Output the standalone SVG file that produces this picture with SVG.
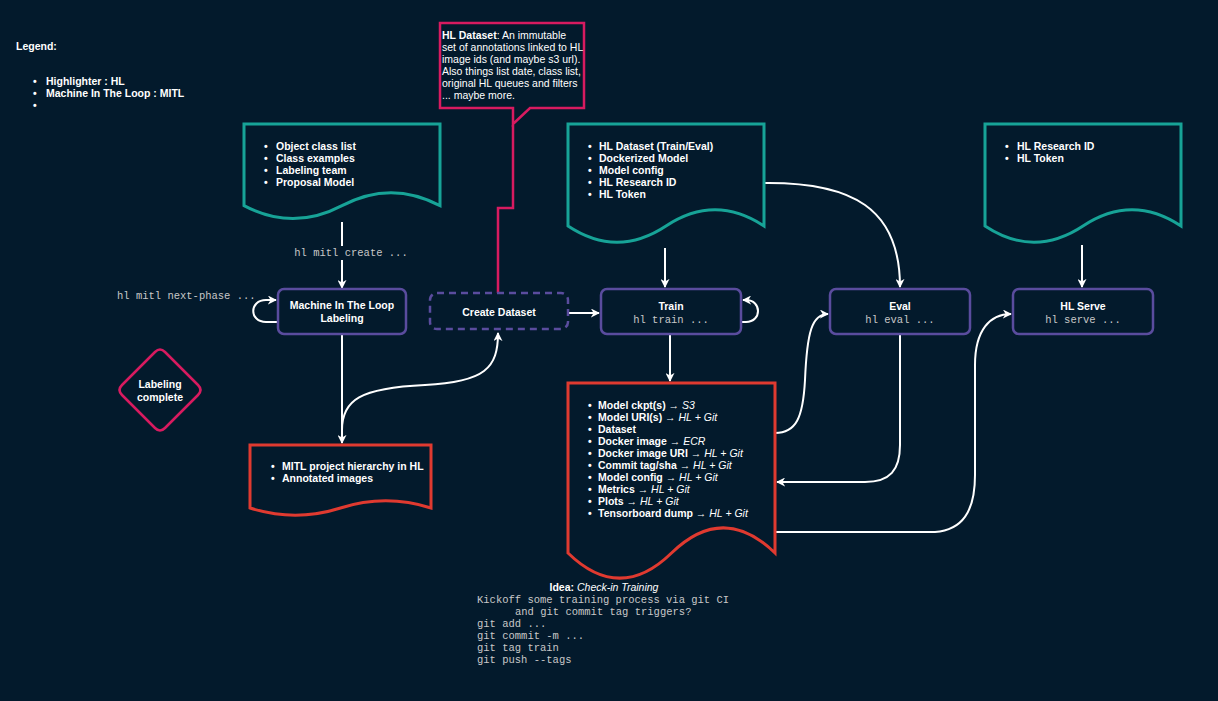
<svg xmlns="http://www.w3.org/2000/svg" width="1218" height="701" viewBox="0 0 1218 701">
<defs>
<style>
.t{font-family:"Liberation Sans",Arial,sans-serif;font-size:10.5px;fill:#ffffff}
.b{font-weight:bold}
.i{font-style:italic;font-weight:normal}
.n{font-weight:normal}
.m{font-family:"Liberation Mono","Courier New",monospace;font-size:10.5px;fill:#c8c8c8}
.doc-g{fill:#031a2c;stroke:#17a397;stroke-width:3}
.doc-r{fill:#031a2c;stroke:#e03a30;stroke-width:3}
.node{fill:#031a2c;stroke:#5a4c9e;stroke-width:2.5}
.pink{fill:#031a2c;stroke:#d81b60;stroke-width:2.5}
.c{fill:none;stroke:#ffffff;stroke-width:2}
</style>
<marker id="arr" viewBox="0 0 10 10" refX="9" refY="5" markerWidth="9" markerHeight="9" markerUnits="userSpaceOnUse" orient="auto"><path d="M0,0 L10,5 L0,10 L3,5 Z" fill="#ffffff"/></marker>
</defs>
<rect x="0" y="0" width="1218" height="701" fill="#031a2c"/>

<g id="legend" class="t b">
<text x="16" y="50">Legend:</text>
<text x="33" y="85">•</text><text x="46" y="85">Highlighter : HL</text>
<text x="33" y="97">•</text><text x="46" y="97">Machine In The Loop : MITL</text>
<text x="33" y="109">•</text>
</g>

<g id="connectors">
<path class="c" d="M342,222 V246"/>
<path class="c" d="M342,260 V288" marker-end="url(#arr)"/>
<text class="m" x="351" y="256" text-anchor="middle">hl mitl create ...</text>
<path class="c" d="M278,322 H266 C249,322 249,300 266,300 H276" marker-end="url(#arr)"/>
<text class="m" x="117" y="299">hl mitl next-phase ...</text>
<path class="c" d="M568,313 H599" marker-end="url(#arr)"/>
<path class="c" d="M741,322 H746 C762,322 762,300 746,300 H743" marker-end="url(#arr)"/>
<path class="c" d="M665,248 V287" marker-end="url(#arr)"/>
<path class="c" d="M764,183 C852,182 900,208 900,287" marker-end="url(#arr)"/>
<path class="c" d="M1082,245 V287" marker-end="url(#arr)"/>
<path class="c" d="M670,334 V381" marker-end="url(#arr)"/>
<path class="c" d="M775,433 C796,433 803,418 805,380 C807,332 812,314 828,314" marker-end="url(#arr)"/>
<path class="c" d="M900,334 V445 C900,470 890,482 865,482 H777" marker-end="url(#arr)"/>
<path class="c" d="M775,532 H935 C962,530 975,512 975,475 V365 C975,330 990,314 1011,314" marker-end="url(#arr)"/>
<path class="c" d="M342,334 V443" marker-end="url(#arr)"/>
<path class="c" d="M342,430 C342,400 360,388 425,385 C485,382 498,368 498,333" marker-end="url(#arr)"/>
<path d="M513,125 V208 H498 V293" fill="none" stroke="#d81b60" stroke-width="2.5"/>
</g>

<g id="callout">
<path class="pink" d="M440,23 H584 V108 H530 L513,124 V108 H440 Z"/>
<text class="t" x="442" y="39"><tspan class="b">HL Dataset</tspan>: An immutable</text>
<text class="t" x="442" y="51">set of annotations linked to HL</text>
<text class="t" x="442" y="63">image ids (and maybe s3 url).</text>
<text class="t" x="442" y="75">Also things list date, class list,</text>
<text class="t" x="442" y="87">original HL queues and filters</text>
<text class="t" x="442" y="99">... maybe more.</text>
</g>

<g id="doc-inputs-mitl">
<path class="doc-g" d="M244,124 H440 V205.6 Q391,179.7 342,205.6 Q293,231.5 244,205.6 Z"/>
<g class="t b">
<text x="264" y="150">•</text><text x="276" y="150">Object class list</text>
<text x="264" y="162">•</text><text x="276" y="162">Class examples</text>
<text x="264" y="174">•</text><text x="276" y="174">Labeling team</text>
<text x="264" y="186">•</text><text x="276" y="186">Proposal Model</text>
</g>
</g>

<g id="doc-inputs-train">
<path class="doc-g" d="M568,124 H764 V226 Q715,193.6 666,226 Q617,258.4 568,226 Z"/>
<g class="t b">
<text x="588" y="150">•</text><text x="599" y="150">HL Dataset (Train/Eval)</text>
<text x="588" y="162">•</text><text x="599" y="162">Dockerized Model</text>
<text x="588" y="174">•</text><text x="599" y="174">Model config</text>
<text x="588" y="186">•</text><text x="599" y="186">HL Research ID</text>
<text x="588" y="198">•</text><text x="599" y="198">HL Token</text>
</g>
</g>

<g id="doc-inputs-serve">
<path class="doc-g" d="M985,124 H1181 V226 Q1132,193.6 1083,226 Q1034,258.4 985,226 Z"/>
<g class="t b">
<text x="1005" y="150">•</text><text x="1017" y="150">HL Research ID</text>
<text x="1005" y="162">•</text><text x="1017" y="162">HL Token</text>
</g>
</g>

<g id="node-mitl">
<rect class="node" x="278" y="289" width="128" height="45" rx="6"/>
<text class="t b" x="342" y="309" text-anchor="middle">Machine In The Loop</text>
<text class="t b" x="342" y="322" text-anchor="middle">Labeling</text>
</g>

<g id="node-create-dataset">
<rect class="node" x="430" y="293" width="138" height="36" rx="7" stroke-dasharray="7,5"/>
<text class="t b" x="499" y="316" text-anchor="middle">Create Dataset</text>
</g>

<g id="node-train">
<rect class="node" x="601" y="289" width="140" height="45" rx="6"/>
<text class="t b" x="671" y="310" text-anchor="middle">Train</text>
<text class="m" x="671" y="323" text-anchor="middle">hl train ...</text>
</g>

<g id="node-eval">
<rect class="node" x="830" y="289" width="140" height="45" rx="6"/>
<text class="t b" x="900" y="310" text-anchor="middle">Eval</text>
<text class="m" x="900" y="323" text-anchor="middle">hl eval ...</text>
</g>

<g id="node-serve">
<rect class="node" x="1013" y="289" width="140" height="45" rx="6"/>
<text class="t b" x="1083" y="310" text-anchor="middle">HL Serve</text>
<text class="m" x="1083" y="323" text-anchor="middle">hl serve ...</text>
</g>

<g id="node-labeling-complete">
<path class="pink" d="M155,352 Q160,347 165,352 L198,385 Q203,390 198,395 L165,428 Q160,433 155,428 L122,395 Q117,390 122,385 Z"/>
<text class="t b" x="160" y="388" text-anchor="middle">Labeling</text>
<text class="t b" x="160" y="401" text-anchor="middle">complete</text>
</g>

<g id="doc-mitl-outputs">
<path class="doc-r" d="M250,445 H431 V508 Q385.75,493.6 340.5,508 Q295.25,522.4 250,508 Z"/>
<g class="t b">
<text x="271" y="470">•</text><text x="282" y="470">MITL project hierarchy in HL</text>
<text x="271" y="482">•</text><text x="282" y="482">Annotated images</text>
</g>
</g>

<g id="doc-train-outputs">
<path class="doc-r" d="M568,383 H775 V553 Q723.25,502.6 671.5,553 Q619.75,603.4 568,553 Z"/>
<g class="t b">
<text x="588" y="409">•</text><text x="598" y="409">Model ckpt(s) <tspan class="n">→</tspan> <tspan class="i">S3</tspan></text>
<text x="588" y="421">•</text><text x="598" y="421">Model URI(s) <tspan class="n">→</tspan> <tspan class="i">HL + Git</tspan></text>
<text x="588" y="433">•</text><text x="598" y="433">Dataset</text>
<text x="588" y="445">•</text><text x="598" y="445">Docker image <tspan class="n">→</tspan> <tspan class="i">ECR</tspan></text>
<text x="588" y="457">•</text><text x="598" y="457">Docker image URI <tspan class="n">→</tspan> <tspan class="i">HL + Git</tspan></text>
<text x="588" y="469">•</text><text x="598" y="469">Commit tag/sha <tspan class="n">→</tspan> <tspan class="i">HL + Git</tspan></text>
<text x="588" y="481">•</text><text x="598" y="481">Model config <tspan class="n">→</tspan> <tspan class="i">HL + Git</tspan></text>
<text x="588" y="493">•</text><text x="598" y="493">Metrics <tspan class="n">→</tspan> <tspan class="i">HL + Git</tspan></text>
<text x="588" y="505">•</text><text x="598" y="505">Plots <tspan class="n">→</tspan> <tspan class="i">HL + Git</tspan></text>
<text x="588" y="517">•</text><text x="598" y="517">Tensorboard dump <tspan class="n">→</tspan> <tspan class="i">HL + Git</tspan></text>
</g>
</g>

<g id="idea">
<text class="t b" x="604" y="591" text-anchor="middle">Idea: <tspan class="i">Check-in Training</tspan></text>
<text class="m" x="477" y="603">Kickoff some training process via git CI</text>
<text class="m" x="515" y="615">and git commit tag triggers?</text>
<text class="m" x="477" y="627">git add ...</text>
<text class="m" x="477" y="639">git commit -m ...</text>
<text class="m" x="477" y="651">git tag train</text>
<text class="m" x="477" y="663">git push --tags</text>
</g>
</svg>
